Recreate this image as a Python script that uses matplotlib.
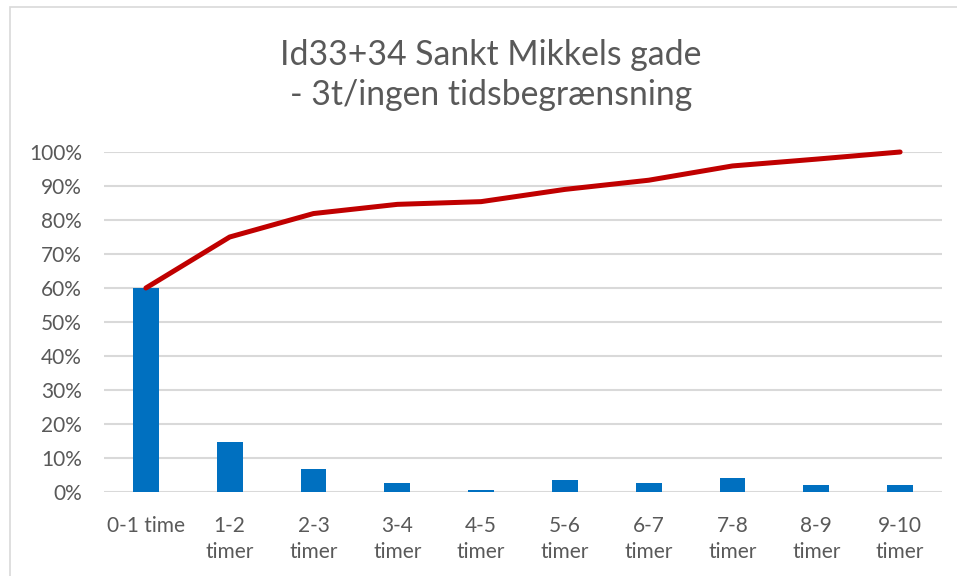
import matplotlib
matplotlib.use("Agg")
import matplotlib.pyplot as plt
from matplotlib.patches import Rectangle
from matplotlib.ticker import PercentFormatter

# andel pr. interval og kumuleret andel
kategorier = ["0-1 time", "1-2\ntimer", "2-3\ntimer", "3-4\ntimer", "4-5\ntimer",
              "5-6\ntimer", "6-7\ntimer", "7-8\ntimer", "8-9\ntimer", "9-10\ntimer"]
andel = [60.0, 14.6, 6.9, 2.7, 0.5, 3.4, 2.7, 4.1, 2.0, 2.0]
kumuleret = [60.0, 75.0, 81.9, 84.6, 85.4, 89.0, 91.7, 95.9, 97.9, 100.0]
yticks = [0, 10, 20, 30, 40, 50, 60, 70, 80, 90, 100]
titel = ["Id33+34 Sankt Mikkels gade", "- 3t/ingen tidsbegrænsning"]

W, H = 957, 576
tekst_farve = "#595959"
plt.rcParams["font.family"] = ["Lato", "DejaVu Sans"]

fig = plt.figure(figsize=(W / 100, H / 100), dpi=100)
ax = fig.add_axes([104 / W, (H - 492) / H, (942 - 104) / W, (492 - 152) / H])

x = range(len(kategorier))
ax.bar(x, andel, width=0.31, color="#0070C0", zorder=2)
ax.plot(x, kumuleret, color="#C00000", lw=3.6, solid_capstyle="round", zorder=3, clip_on=False)

ax.set_xlim(-0.5, len(kategorier) - 0.5)
ax.set_ylim(0, 100)
ax.set_yticks(yticks)
ax.yaxis.set_major_formatter(PercentFormatter(decimals=0))
ax.set_xticks(list(x))
ax.set_xticklabels(kategorier, linespacing=1.4)
ax.grid(axis="y", color="#D9D9D9", lw=1.5, zorder=0)
ax.tick_params(axis="both", length=0, labelsize=15, colors=tekst_farve)
ax.tick_params(axis="y", pad=16)
ax.tick_params(axis="x", pad=17)
for s in ax.spines.values():
    s.set_visible(False)

# titlen i to linjer, hver centreret
for i, linje in enumerate(titel):
    fig.text(491 / W, 1 - (65 + 40 * i) / H, linje, ha="center", va="baseline",
             fontsize=24.3, color=tekst_farve)

# ramme om diagrammet (kun venstre og øverste kant er synlige)
fig.patches.append(Rectangle((10 / W, -0.1), 1.2, 1 - 7 / H + 0.1, transform=fig.transFigure,
                             fill=False, edgecolor="#D9D9D9", lw=1.2))

fig.savefig("out.png", dpi=100)
